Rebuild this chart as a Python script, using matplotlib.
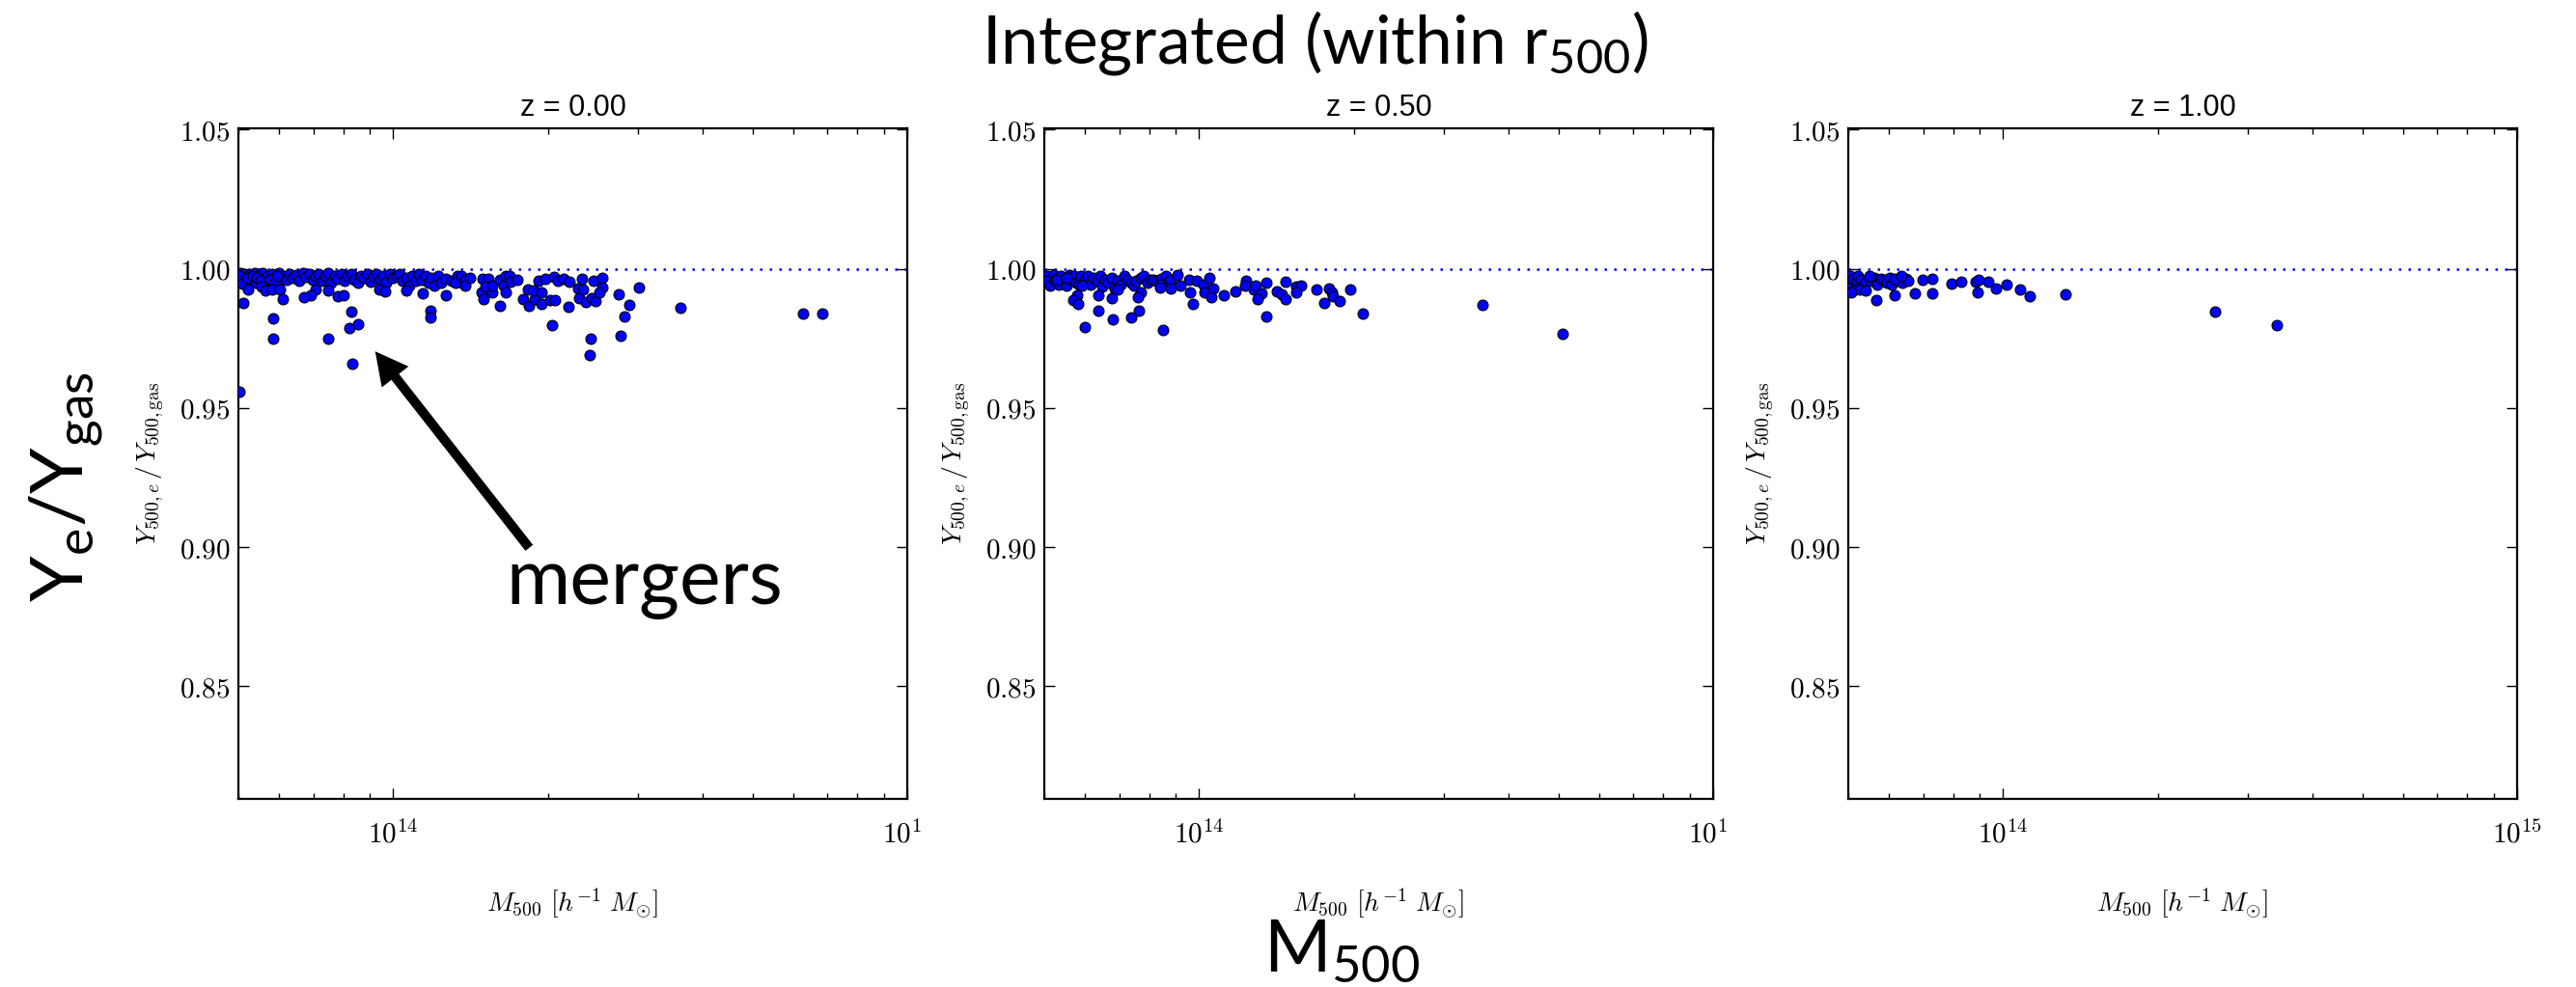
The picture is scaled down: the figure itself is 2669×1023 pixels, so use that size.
"""Y_e / Y_gas within r500 against M500 at three redshifts."""
import matplotlib
matplotlib.use("Agg")
import matplotlib.pyplot as plt
import numpy as np
from matplotlib.ticker import FixedLocator, LogLocator, FuncFormatter, NullFormatter
from matplotlib.transforms import Bbox, TransformedBbox

plt.rcParams['font.family'] = ['Liberation Sans', 'DejaVu Sans']
plt.rcParams['mathtext.fontset'] = 'cm'
plt.rcParams['mathtext.rm'] = 'Lato'
plt.rcParams['mathtext.it'] = 'Lato:italic'
plt.rcParams['mathtext.bf'] = 'Lato:bold'

# ---- data: log10(M500 / h^-1 Msun), Y500e/Y500gas ----
redshifts = [0.00, 0.50, 1.00]

logm_z0 = [
    13.702, 13.702, 13.705, 13.711, 13.714, 13.720, 13.724, 13.730, 13.733, 13.739,
    13.745, 13.749, 13.755, 13.758, 13.764, 13.771, 13.777, 13.780, 13.786, 13.793,
    13.799, 13.805, 13.811, 13.818, 13.824, 13.830, 13.837, 13.843, 13.849, 13.855,
    13.862, 13.868, 13.874, 13.880, 13.887, 13.893, 13.899, 13.906, 13.912, 13.918,
    13.924, 13.931, 13.937, 13.943, 13.950, 13.956, 13.962, 13.968, 13.975, 13.981,
    13.987, 13.993, 14.000, 14.006, 14.012, 14.019, 14.025, 14.031, 14.037, 14.044,
    14.050, 14.056, 14.063, 14.069, 14.075, 14.081, 14.088, 14.094, 14.103, 14.113,
    14.125, 14.135,
    13.700, 13.707, 13.716, 13.727, 13.735, 13.742, 13.761, 13.768, 13.774,
    13.718, 13.744, 13.752, 13.764, 13.779, 13.850, 13.874, 13.840, 13.893, 13.904,
    13.973, 13.984, 14.025, 14.058, 14.103, 13.786, 13.827,
    13.708, 13.766, 13.766, 13.874, 13.918, 13.914, 13.931, 13.920, 13.700, 14.072,
    14.072,
    14.122, 14.132, 14.141, 14.141, 14.150, 14.174, 14.185, 14.172, 14.175, 14.179,
    14.193, 14.193, 14.207, 14.208, 14.216, 14.219, 14.226, 14.219, 14.229, 14.241,
    14.262, 14.253, 14.265, 14.276, 14.273, 14.288, 14.288, 14.282, 14.296, 14.306,
    14.315, 14.312, 14.320, 14.331, 14.342, 14.309, 14.341, 14.359, 14.367, 14.361,
    14.370, 14.375, 14.386, 14.393, 14.390, 14.407, 14.407, 14.401, 14.385, 14.383,
    14.439, 14.460, 14.449, 14.442, 14.479, 14.558, 14.797, 14.835,
]
ratio_z0 = [
    0.9985, 0.9962, 0.9973, 0.9983, 0.9956, 0.9979, 0.9964, 0.9985, 0.9950, 0.9976,
    0.9985, 0.9962, 0.9973, 0.9950, 0.9983, 0.9968, 0.9985, 0.9953, 0.9976, 0.9962,
    0.9983, 0.9968, 0.9979, 0.9956, 0.9985, 0.9971, 0.9983, 0.9962, 0.9976, 0.9983,
    0.9956, 0.9973, 0.9985, 0.9950, 0.9976, 0.9964, 0.9983, 0.9956, 0.9973, 0.9983,
    0.9962, 0.9950, 0.9976, 0.9968, 0.9983, 0.9953, 0.9973, 0.9983, 0.9962, 0.9976,
    0.9950, 0.9983, 0.9968, 0.9973, 0.9983, 0.9956, 0.9968, 0.9939, 0.9973, 0.9956,
    0.9983, 0.9962, 0.9976, 0.9950, 0.9968, 0.9939, 0.9973, 0.9950, 0.9964, 0.9956,
    0.9973, 0.9950,
    0.9975, 0.9945, 0.9968, 0.9975, 0.9966, 0.9958, 0.9960, 0.9946, 0.9975,
    0.9927, 0.9936, 0.9921, 0.9925, 0.9927, 0.9925, 0.9921, 0.9906, 0.9902, 0.9904,
    0.9925, 0.9918, 0.9921, 0.9912, 0.9906, 0.9892, 0.9898,
    0.9879, 0.9823, 0.9750, 0.9748, 0.9846, 0.9788, 0.9801, 0.9659, 0.9557, 0.9850,
    0.9826,
    0.9950, 0.9976, 0.9962, 0.9941, 0.9968, 0.9964, 0.9964, 0.9916, 0.9892, 0.9936,
    0.9916, 0.9941, 0.9962, 0.9866, 0.9939, 0.9973, 0.9973, 0.9916, 0.9953, 0.9962,
    0.9925, 0.9890, 0.9866, 0.9890, 0.9921, 0.9916, 0.9873, 0.9956, 0.9964, 0.9889,
    0.9889, 0.9971, 0.9956, 0.9964, 0.9953, 0.9796, 0.9863, 0.9929, 0.9964, 0.9896,
    0.9925, 0.9881, 0.9895, 0.9883, 0.9956, 0.9968, 0.9933, 0.9916, 0.9748, 0.9690,
    0.9909, 0.9872, 0.9830, 0.9759, 0.9932, 0.9860, 0.9838, 0.9840,
]

logm_z05 = [
    13.705, 13.705, 13.711, 13.717, 13.720, 13.727, 13.730, 13.736, 13.742, 13.748,
    13.752, 13.758, 13.761, 13.767, 13.770, 13.777, 13.783, 13.789, 13.795, 13.802,
    13.808, 13.811, 13.817, 13.823, 13.830, 13.836, 13.842, 13.848, 13.855, 13.861,
    13.867, 13.874, 13.877, 13.886, 13.892, 13.899, 13.905, 13.911, 13.917, 13.927,
    13.936, 13.939, 13.945, 13.723, 13.742, 13.773, 13.842, 13.886, 13.924,
    13.762, 13.756, 13.764, 13.805, 13.805, 13.777, 13.831, 13.832, 13.868, 13.883,
    13.881, 13.930, 13.924, 13.944, 13.958, 13.964, 13.980, 13.983, 13.989, 13.995,
    14.008, 14.011, 14.020, 14.027, 14.024, 14.049, 14.070, 14.091, 14.089, 14.106,
    14.111, 14.122, 14.114, 14.130, 14.131,
    14.169, 14.152, 14.161, 14.169, 14.189, 14.199, 14.189, 14.228, 14.252, 14.258,
    14.260, 14.244, 14.274, 14.294, 14.319, 14.551, 14.707,
]
ratio_z05 = [
    0.9973, 0.9956, 0.9939, 0.9979, 0.9962, 0.9944, 0.9973, 0.9956, 0.9939, 0.9979,
    0.9962, 0.9973, 0.9950, 0.9944, 0.9976, 0.9960, 0.9973, 0.9944, 0.9968, 0.9956,
    0.9976, 0.9936, 0.9962, 0.9950, 0.9968, 0.9929, 0.9956, 0.9944, 0.9973, 0.9960,
    0.9950, 0.9939, 0.9956, 0.9968, 0.9973, 0.9950, 0.9962, 0.9960, 0.9956, 0.9964,
    0.9973, 0.9950, 0.9960, 0.9960, 0.9968, 0.9939, 0.9927, 0.9916, 0.9944,
    0.9904, 0.9887, 0.9875, 0.9906, 0.9848, 0.9790, 0.9895, 0.9819, 0.9825, 0.9848,
    0.9898, 0.9781, 0.9933, 0.9929, 0.9977, 0.9939, 0.9959, 0.9916, 0.9875, 0.9956,
    0.9944, 0.9916, 0.9968, 0.9929, 0.9898, 0.9904, 0.9918, 0.9956, 0.9941, 0.9925,
    0.9939, 0.9912, 0.9890, 0.9950, 0.9829,
    0.9954, 0.9918, 0.9910, 0.9890, 0.9936, 0.9939, 0.9916, 0.9925, 0.9929, 0.9916,
    0.9902, 0.9878, 0.9884, 0.9925, 0.9839, 0.9872, 0.9767,
]

logm_z1 = [
    13.702, 13.702, 13.705, 13.708, 13.715, 13.718, 13.724, 13.727, 13.733, 13.743,
    13.749, 13.755, 13.762, 13.768, 13.774, 13.780, 13.783, 13.796, 13.805, 13.812,
    13.815, 13.708, 13.721,
    13.740, 13.705, 13.733, 13.754, 13.790, 13.790, 13.802, 13.829, 13.843, 13.862,
    13.862, 13.899, 13.918, 13.946, 13.952, 13.951, 13.971, 13.987, 14.007, 14.034,
    14.051, 14.121, 14.413, 14.532,
]
ratio_z1 = [
    0.9973, 0.9950, 0.9933, 0.9964, 0.9956, 0.9973, 0.9962, 0.9939, 0.9950, 0.9956,
    0.9968, 0.9944, 0.9964, 0.9960, 0.9950, 0.9968, 0.9944, 0.9956, 0.9950, 0.9964,
    0.9956, 0.9921, 0.9927,
    0.9976, 0.9915, 0.9921, 0.9887, 0.9906, 0.9964, 0.9973, 0.9913, 0.9960, 0.9964,
    0.9911, 0.9948, 0.9954, 0.9954, 0.9960, 0.9916, 0.9954, 0.9929, 0.9944, 0.9927,
    0.9900, 0.9910, 0.9846, 0.9799,
]

panels = [(logm_z0, ratio_z0), (logm_z05, ratio_z05), (logm_z1, ratio_z1)]
y_ticks = [0.85, 0.90, 0.95, 1.00, 1.05]
x_ticks = [1e14, 1e15]

W, H = 2669, 1023
fig = plt.figure(figsize=(W / 100, H / 100), dpi=100)

lefts_px = [247, 1082, 1915]
ax_w, ax_top, ax_bot = 693, 133, 828

axes = []
for i, (z, (lm, rat)) in enumerate(zip(redshifts, panels)):
    ax = fig.add_axes([lefts_px[i] / W, 1 - ax_bot / H, ax_w / W, (ax_bot - ax_top) / H])
    ax.set_xscale('log')
    ax.axhline(1.0, color='b', lw=1.8, ls=(0, (1, 3)), zorder=2)
    ax.scatter(10 ** np.array(lm), rat, s=62, c='#0000ff', edgecolors='k',
               linewidths=0.8, zorder=3)
    ax.set_xlim(5e13, 1e15)
    ax.set_ylim(0.8095, 1.0505)

    ax.yaxis.set_major_locator(FixedLocator(y_ticks))
    ax.yaxis.set_major_formatter(FuncFormatter(lambda v, p: r'$%.2f$' % v))
    ax.xaxis.set_major_locator(FixedLocator(x_ticks))
    ax.xaxis.set_major_formatter(
        FuncFormatter(lambda v, p: r'$10^{%d}$' % round(np.log10(v))))
    ax.xaxis.set_minor_locator(LogLocator(base=10, subs=np.arange(2, 10)))
    ax.xaxis.set_minor_formatter(NullFormatter())
    ax.yaxis.set_minor_locator(FixedLocator([]))

    ax.tick_params(which='both', direction='in', top=True, right=True, width=1)
    ax.tick_params(which='major', length=8, labelsize=21, pad=6)
    ax.tick_params(axis='x', which='major', pad=16)
    ax.tick_params(which='minor', length=4)
    for sp in ax.spines.values():
        sp.set_linewidth(1.6)

    ax.set_title('z = %.2f' % z, fontsize=22, pad=9)
    ax.set_xlabel(r'$M_{500}\ [h^{-1}\ M_{\odot}]$', fontsize=20, labelpad=28)
    ax.set_ylabel(r'$Y_{500,e}\,/\,Y_{500,\mathrm{gas}}$', fontsize=20, labelpad=10)
    axes.append(ax)

# the 10^15 labels of the first two panels are cut off in the original
fig.canvas.draw()
for ax, left in zip(axes[:2], lefts_px[:2]):
    cut = (left + ax_w + 14) / W
    lab = ax.xaxis.get_major_ticks()[-1].label1
    lab.set_clip_box(TransformedBbox(Bbox.from_extents(0, 0, cut, 1), fig.transFigure))
    lab.set_clip_on(True)

big = dict(family='Lato', math_fontfamily='custom', color='k')
fig.text(1362 / W, 1 - 45 / H, r'Integrated (within r$_{\mathrm{500}}$)',
         fontsize=50, ha='center', va='center', **big)
fig.text(68 / W, 1 - 505 / H, r'Y$_{\mathrm{e}}$/Y$_{\mathrm{gas}}$',
         fontsize=55, ha='center', va='center', rotation=90, **big)
fig.text(1390 / W, 1 - 985 / H, r'M$_{\mathrm{500}}$',
         fontsize=54, ha='center', va='center', **big)
fig.text(668 / W, 1 - 626 / H, 'mergers', fontsize=58, ha='center',
         va='baseline', **big)

fig.add_artist(matplotlib.patches.FancyArrowPatch(
    (550 / W, 1 - 570 / H), (387 / W, 1 - 362 / H), transform=fig.transFigure,
    arrowstyle='simple,head_length=2.2,head_width=2.3,tail_width=0.65',
    mutation_scale=11, color='k', lw=0))

fig.savefig('out.png', dpi=100)
